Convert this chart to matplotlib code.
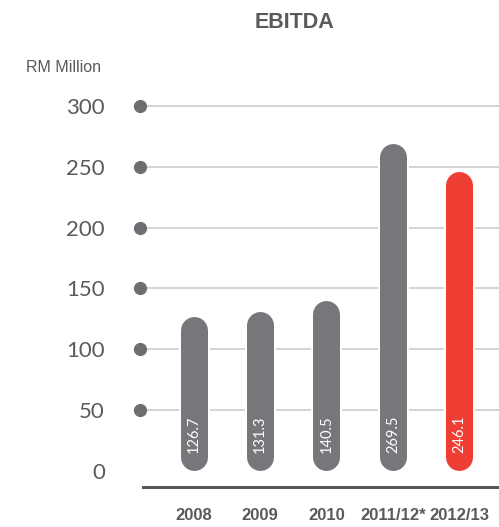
import matplotlib
matplotlib.use("Agg")
import matplotlib.pyplot as plt

# EBITDA, RM Million
categories = ["2008", "2009", "2010", "2011/12*", "2012/13"]
values = [126.7, 131.3, 140.5, 269.5, 246.1]
highlight = [False, False, False, False, True]
yticks = [0, 50, 100, 150, 200, 250, 300]
grid_levels = [50, 100, 150, 200, 250, 300]

GREY = "#77777b"
RED = "#ef3e33"
TEXT = "#5a5a5c"
GRID = "#c9c9c9"

plt.rcParams["font.family"] = ["Liberation Sans", "DejaVu Sans"]
NUM_FONT = ["Lato", "DejaVu Sans"]

W, H = 499, 527
fig = plt.figure(figsize=(W / 100, H / 100), dpi=100)
# axes placed in pixel units
left, right, bottom, top = 130, 499, 40, 445.3
ax = fig.add_axes([left / W, bottom / H, (right - left) / W, (top - bottom) / H])

ymin, ymax = -13.2, 320
xmin, xmax = -0.956, 4.598
ax.set_xlim(xmin, xmax)
ax.set_ylim(ymin, ymax)

# bar geometry in pixels -> data units
bar_w_px = 27
px_per_y = (top - bottom) / (ymax - ymin)
bar_lw_pt = bar_w_px * 72 / 100
r_data = (bar_w_px / 2) / px_per_y

dot_x = -0.81
ax.hlines(grid_levels, dot_x, xmax, color=GRID, lw=1.1, zorder=1)
ax.scatter([dot_x] * len(grid_levels), grid_levels, s=90, color="#6d6e71",
           zorder=3, clip_on=False, linewidths=0)

for i, (v, hl) in enumerate(zip(values, highlight)):
    c = RED if hl else GREY
    y0, y1 = r_data, v - r_data
    # white halo so gridlines break around each bar
    ax.plot([i, i], [y0, y1], color="white", lw=bar_lw_pt + 4 * 72 / 100,
            solid_capstyle="round", zorder=2)
    ax.plot([i, i], [y0, y1], color=c, lw=bar_lw_pt,
            solid_capstyle="round", zorder=2.5)
    ax.text(i, 15, f"{v:.1f}", rotation=90, ha="center", va="bottom",
            color="white", fontsize=10.5, family=NUM_FONT, zorder=4)

for s in ["top", "left", "right"]:
    ax.spines[s].set_visible(False)
ax.spines["bottom"].set_color("#58585a")
ax.spines["bottom"].set_linewidth(3 * 72 / 100)
ax.spines["bottom"].set_bounds(-0.76, xmax)

ax.set_yticks(yticks)
ax.set_yticklabels([str(t) for t in yticks], fontsize=16, color=TEXT,
                   family=NUM_FONT)
ax.tick_params(axis="y", length=0, pad=18)
ax.set_xticks(range(len(categories)))
ax.set_xticklabels(categories, fontsize=12, fontweight="bold", color=TEXT)
ax.tick_params(axis="x", length=0, pad=15)

fig.text(294 / W, 1 - 22 / H, "EBITDA", ha="center", va="center",
         fontsize=15.5, fontweight="bold", color=TEXT)
fig.text(26 / W, 1 - 67 / H, "RM Million", ha="left", va="center",
         fontsize=11.5, color=TEXT)

fig.savefig("out.png", dpi=100)
